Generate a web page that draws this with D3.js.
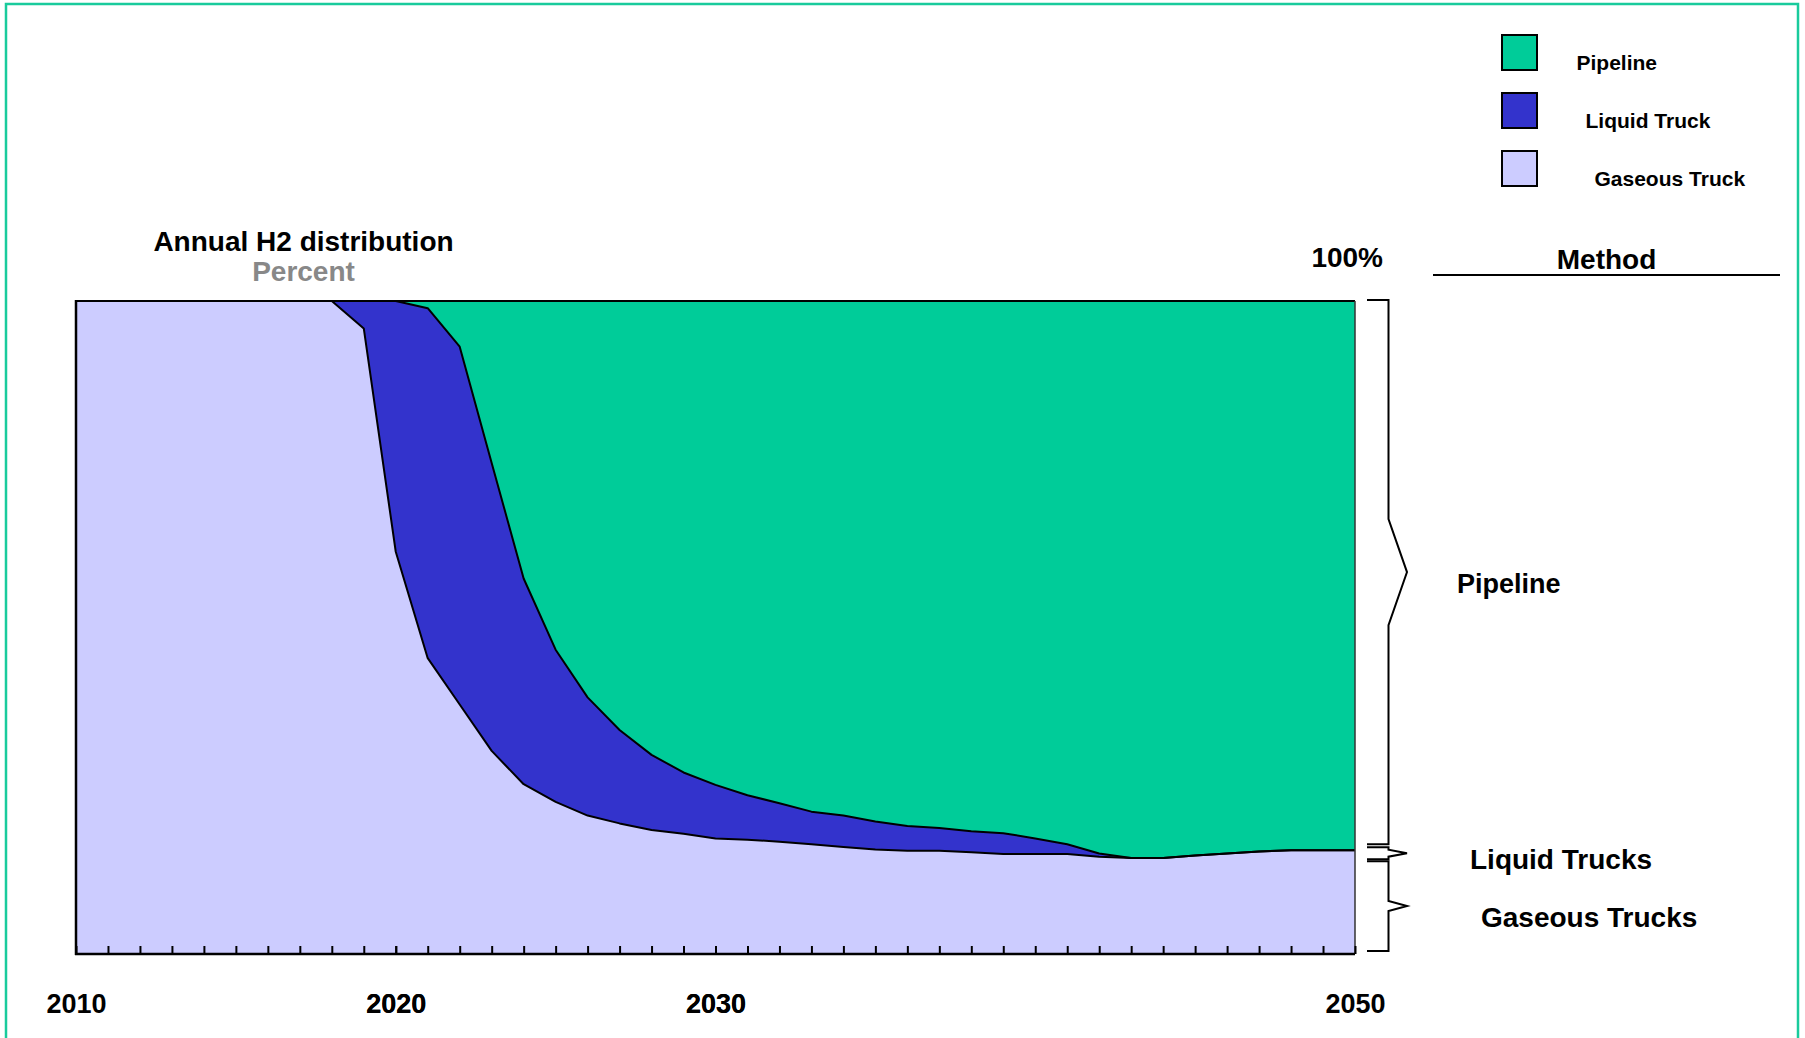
<!DOCTYPE html>
<html>
<head>
<meta charset="utf-8">
<script src="https://cdn.jsdelivr.net/npm/d3@7"></script>
<style>
  html, body { margin: 0; padding: 0; background: #ffffff; }
  svg { display: block; }
  text { font-family: "Liberation Sans", Arial, Helvetica, sans-serif; font-weight: bold; }
</style>
</head>
<body>
<svg id="chart" width="1805" height="1038"></svg>
<script>
// Annual H2 distribution by delivery method, share of total (%)
const years = d3.range(2010, 2051);

const gaseousTruck = [
  100, 100, 100, 100, 100, 100, 100, 100, 100, 95.8,
  61.6, 45.3, 38.2, 31.1, 26.0, 23.3, 21.2, 20.0, 19.0, 18.4,
  17.7, 17.5, 17.2, 16.8, 16.4, 16.0, 15.8, 15.8, 15.6, 15.3,
  15.3, 15.3, 14.9, 14.7, 14.7, 15.1, 15.4, 15.7, 15.9, 15.9,
  15.9
];

const liquidTruck = [
  0, 0, 0, 0, 0, 0, 0, 0, 0, 4.2,
  38.4, 53.6, 54.8, 44.1, 31.5, 23.3, 18.1, 14.3, 11.5, 9.4,
  8.2, 6.8, 5.9, 5.0, 4.8, 4.3, 3.8, 3.5, 3.2, 3.2,
  2.4, 1.5, 0.5, 0, 0, 0, 0, 0, 0, 0,
  0
];

const pipeline = [
  0, 0, 0, 0, 0, 0, 0, 0, 0, 0,
  0, 1.1, 7.0, 24.8, 42.5, 53.4, 60.7, 65.7, 69.5, 72.2,
  74.1, 75.7, 76.9, 78.2, 78.8, 79.7, 80.4, 80.7, 81.2, 81.5,
  82.3, 83.2, 84.6, 85.3, 85.3, 84.9, 84.6, 84.3, 84.1, 84.1,
  84.1
];

const labeledYears = [2010, 2020, 2030, 2050];

const seriesKeys = ["gaseous", "liquid", "pipeline"];
const seriesColors = { gaseous: "#CCCCFF", liquid: "#3333CC", pipeline: "#00CC99" };
const legendItems = [
  { key: "pipeline", label: "Pipeline" },
  { key: "liquid", label: "Liquid Truck" },
  { key: "gaseous", label: "Gaseous Truck" }
];

// Rows for the stack layout
const rows = years.map((yr, i) => ({
  year: yr,
  gaseous: gaseousTruck[i],
  liquid: liquidTruck[i],
  pipeline: pipeline[i]
}));

const svg = d3.select("#chart");

// Page frame
svg.append("rect")
  .attr("x", 6).attr("y", 4)
  .attr("width", 1792).attr("height", 1060)
  .attr("fill", "none")
  .attr("stroke", "#19CB9C")
  .attr("stroke-width", 2.5);

const plot = { left: 76, right: 1355, top: 301, bottom: 954 };

const x = d3.scaleLinear().domain([2010, 2050]).range([plot.left, plot.right]);
const y = d3.scaleLinear().domain([0, 100]).range([plot.bottom, plot.top]);

const stacked = d3.stack().keys(seriesKeys)(rows);

const area = d3.area()
  .x(d => x(d.data.year))
  .y0(d => y(d[0]))
  .y1(d => y(d[1]));

const g = svg.append("g");

g.selectAll("path.layer")
  .data(stacked)
  .join("path")
  .attr("class", "layer")
  .attr("fill", d => seriesColors[d.key])
  .attr("d", area);

// Boundary lines between layers
const boundary = d3.line()
  .x(d => x(d.data.year))
  .y(d => y(d[1]));

g.selectAll("path.edge")
  .data(stacked.slice(0, 2))
  .join("path")
  .attr("class", "edge")
  .attr("fill", "none")
  .attr("stroke", "#000")
  .attr("stroke-width", 2)
  .attr("stroke-linejoin", "round")
  .attr("d", boundary);

// Plot frame
g.append("line")
  .attr("x1", plot.left).attr("x2", plot.right)
  .attr("y1", plot.top).attr("y2", plot.top)
  .attr("stroke", "#000").attr("stroke-width", 2);
g.append("line")
  .attr("x1", plot.left).attr("x2", plot.left)
  .attr("y1", plot.top - 1).attr("y2", plot.bottom + 1)
  .attr("stroke", "#000").attr("stroke-width", 2.5);
g.append("line")
  .attr("x1", plot.right).attr("x2", plot.right)
  .attr("y1", plot.top).attr("y2", plot.bottom)
  .attr("stroke", "#333").attr("stroke-width", 1.5);

// X axis: a tick every year, labels on selected decades
const xAxis = d3.axisBottom(x)
  .tickValues(years.filter(yr => yr > 2010 && yr < 2050).concat(labeledYears))
  .tickSizeInner(-8)
  .tickSizeOuter(0)
  .tickPadding(40)
  .tickFormat(d => labeledYears.includes(d) ? String(d) : "");

const axisG = svg.append("g")
  .attr("transform", `translate(0,${plot.bottom})`)
  .call(xAxis);
axisG.select(".domain").remove();
axisG.selectAll(".tick line").attr("stroke", "#000").attr("stroke-width", 2);
axisG.selectAll(".tick text")
  .attr("fill", "#000")
  .style("font-size", "27px")
  .style("font-family", "'Liberation Sans', Arial, sans-serif")
  .style("font-weight", "bold");

svg.append("line")
  .attr("x1", plot.left - 1).attr("x2", plot.right)
  .attr("y1", plot.bottom).attr("y2", plot.bottom)
  .attr("stroke", "#000").attr("stroke-width", 2.5);

// Titles
svg.append("text")
  .attr("x", 303.5).attr("y", 251)
  .attr("text-anchor", "middle")
  .style("font-size", "28px")
  .attr("fill", "#000")
  .text("Annual H2 distribution");
svg.append("text")
  .attr("x", 303.5).attr("y", 281)
  .attr("text-anchor", "middle")
  .style("font-size", "28px")
  .attr("fill", "#888888")
  .text("Percent");

svg.append("text")
  .attr("x", 1383).attr("y", 267)
  .attr("text-anchor", "end")
  .style("font-size", "28px")
  .attr("fill", "#000")
  .text("100%");

// Method column header
svg.append("text")
  .attr("x", 1606.5).attr("y", 269)
  .attr("text-anchor", "middle")
  .style("font-size", "28px")
  .attr("fill", "#000")
  .text("Method");
svg.append("line")
  .attr("x1", 1433).attr("x2", 1780)
  .attr("y1", 275).attr("y2", 275)
  .attr("stroke", "#000").attr("stroke-width", 2);

// Brackets grouping the right-hand end of each band
const last = rows[rows.length - 1];
const endTop = last.gaseous + last.liquid; // top of the truck bands in 2050
const brackets = [
  { label: "Pipeline", from: y(100) - 1, to: y(endTop) - 6, half: 53, labelX: 1457, labelDy: 21, size: 27 },
  { label: "Liquid Trucks", from: y(endTop) - 3, to: y(endTop) + 9, half: 3.5, labelX: 1470, labelDy: 16, size: 28 },
  { label: "Gaseous Trucks", from: y(endTop) + 11, to: y(0) - 3, half: 5, labelX: 1481, labelDy: 21, size: 28 }
];
const bx0 = 1367, bx1 = 1388.5, btip = 1407;

brackets.forEach(b => {
  const mid = (b.from + b.to) / 2;
  const p = d3.path();
  p.moveTo(bx0, b.from);
  p.lineTo(bx1, b.from);
  p.lineTo(bx1, mid - b.half);
  p.lineTo(btip, mid);
  p.lineTo(bx1, mid + b.half);
  p.lineTo(bx1, b.to);
  p.lineTo(bx0, b.to);
  svg.append("path")
    .attr("d", p.toString())
    .attr("fill", "none")
    .attr("stroke", "#000")
    .attr("stroke-width", 2);
  svg.append("text")
    .attr("x", b.labelX).attr("y", mid + b.labelDy)
    .style("font-size", b.size + "px")
    .attr("fill", "#000")
    .text(b.label);
});

// Legend
const legend = svg.append("g");
const legendTextX = [1576.5, 1585.5, 1594.5];
legendItems.forEach((item, i) => {
  const top = 35 + i * 58;
  legend.append("rect")
    .attr("x", 1502).attr("y", top)
    .attr("width", 35).attr("height", 35)
    .attr("fill", seriesColors[item.key])
    .attr("stroke", "#000")
    .attr("stroke-width", 2);
  legend.append("text")
    .attr("x", legendTextX[i]).attr("y", top + 35)
    .style("font-size", "21px")
    .attr("fill", "#000")
    .text(item.label);
});
</script>
</body>
</html>
